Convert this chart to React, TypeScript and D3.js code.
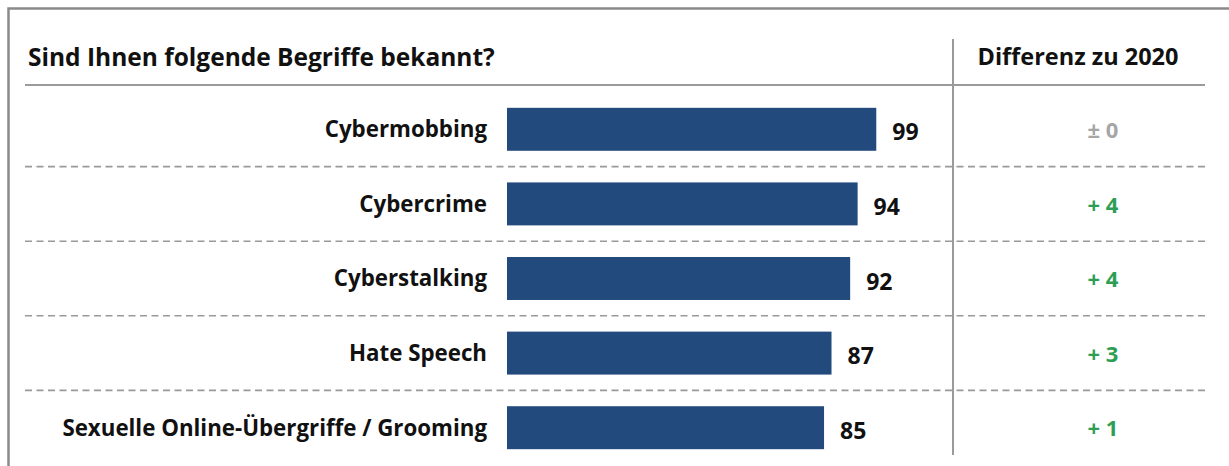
import React from "react";
import * as d3 from "d3";

const title = "Sind Ihnen folgende Begriffe bekannt?";
const diffHeader = "Differenz zu 2020";
const categories = [
  "Cybermobbing",
  "Cybercrime",
  "Cyberstalking",
  "Hate Speech",
  "Sexuelle Online-Übergriffe / Grooming",
];
const values = [99, 94, 92, 87, 85];
const diffs = [0, 4, 4, 3, 1];
const diffLabels = ["± 0", "+ 4", "+ 4", "+ 3", "+ 1"];

const W = 1229;
const H = 466;
const FONT = "'Open Sans', 'Noto Sans', sans-serif";

export default function App() {
  const y = d3
    .scaleBand<string>()
    .domain(categories)
    .range([92, 465])
    .paddingInner(0.424)
    .paddingOuter(0.212);
  const x = d3.scaleLinear().domain([0, 100]).range([507, 880]);
  const step = y.step();
  const bw = y.bandwidth();
  const sepYs = categories.slice(0, -1).map((c) => (y(c) as number) + bw + (step - bw) / 2);

  return (
    <svg
      width={W}
      height={H}
      style={{ position: "absolute", left: 0, top: 0, background: "#fff" }}
      fontFamily={FONT}
    >
      <rect x={0} y={0} width={W} height={H} fill="#fff" />
      {/* frame */}
      <path d={`M8.5,${H} L8.5,8.5 L${W},8.5`} fill="none" stroke="#8a8a8a" strokeWidth={2.5} />
      {/* title */}
      <text x={28} y={66} fontSize={24.5} fontWeight={700} fill="#111">
        {title}
      </text>
      <text x={1078} y={65} fontSize={23.5} fontWeight={700} fill="#111" textAnchor="middle">
        {diffHeader}
      </text>
      {/* header rule */}
      <line x1={25} x2={1205} y1={85} y2={85} stroke="#9a9a9a" strokeWidth={2} />
      {/* vertical divider */}
      <line x1={953} x2={953} y1={39} y2={455} stroke="#9a9a9a" strokeWidth={2} />
      {/* dashed separators */}
      {sepYs.map((sy, i) => (
        <line
          key={i}
          x1={25}
          x2={1205}
          y1={sy}
          y2={sy}
          stroke="#999"
          strokeWidth={1.6}
          strokeDasharray="7,4.5"
        />
      ))}
      {categories.map((c, i) => {
        const top = y(c) as number;
        const cy = top + bw / 2;
        return (
          <g key={c}>
            <text
              x={487}
              y={cy}
              dy="0.35em"
              textAnchor="end"
              fontSize={22.3}
              fontWeight={700}
              fill="#111"
            >
              {c}
            </text>
            <rect x={x(0)} y={top} width={x(values[i]) - x(0)} height={bw} fill="#224a7c" />
            <text
              x={x(values[i]) + 16}
              y={cy + 3}
              dy="0.35em"
              fontSize={23}
              fontWeight={700}
              fill="#111"
            >
              {values[i]}
            </text>
            <text
              x={1103}
              y={cy + 1}
              dy="0.35em"
              textAnchor="middle"
              fontSize={22}
              fontWeight={700}
              fill={diffs[i] === 0 ? "#a6a6a6" : "#2e9e55"}
            >
              {diffLabels[i]}
            </text>
          </g>
        );
      })}
    </svg>
  );
}
